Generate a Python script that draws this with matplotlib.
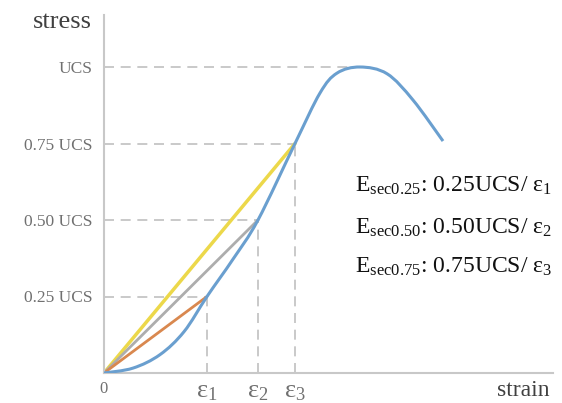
import matplotlib
matplotlib.use("Agg")
import matplotlib.pyplot as plt
from matplotlib.path import Path
from matplotlib.patches import PathPatch
import numpy as np

plt.rcParams['font.family'] = ['Liberation Serif', 'DejaVu Serif']
plt.rcParams['mathtext.fontset'] = 'custom'
plt.rcParams['mathtext.rm'] = 'Liberation Serif'
plt.rcParams['mathtext.it'] = 'Liberation Serif:italic'

# stress-strain curve (strain in arbitrary units, stress as fraction of UCS)
strain = [0, 0.29, 0.56, 0.80, 1.03, 1.29, 1.54, 1.91, 2.16, 2.33, 2.56,
          2.83, 3.09, 3.39]
stress = [0, 0.016, 0.06, 0.135, 0.25, 0.372, 0.50, 0.75, 0.915, 0.98, 1.0,
          0.978, 0.892, 0.758]

levels = [0.25, 0.50, 0.75]
eps = [1.03, 1.54, 1.91]
eps_labels = ['ε$_1$', 'ε$_2$', 'ε$_3$']
peak_strain = 2.56
ytick_vals = [0.25, 0.50, 0.75, 1.0]
ytick_labels = ['0.25 UCS', '0.50 UCS', '0.75 UCS', 'UCS']
secant_colors = ['#d9884f', '#adadad', '#ecd84a']
secant_widths = [2.0, 2.0, 2.5]
annotations = ['E$_{\\mathrm{sec0.25}}$: 0.25UCS/ ε$_1$',
               'E$_{\\mathrm{sec0.50}}$: 0.50UCS/ ε$_2$',
               'E$_{\\mathrm{sec0.75}}$: 0.75UCS/ ε$_3$']

W, H = 562, 403
fig = plt.figure(figsize=(W / 100, H / 100), dpi=100)
ax = fig.add_axes([104 / W, 30 / H, 449 / W, 358 / H])
ax.set_xlim(0, 4.49)
ax.set_ylim(0, 358 / 306)

dash = dict(color='#c0c0c0', lw=1.2, ls=(0, (6, 4)), zorder=1)
for lv, e in zip(levels, eps):
    ax.plot([0, e], [lv, lv], **dash)
    ax.plot([e, e], [0, lv], **dash)
ax.plot([0, peak_strain], [1.0, 1.0], **dash)

# secants (yellow first so the others overlap it)
for i in [2, 1, 0]:
    ax.plot([0, eps[i]], [0, levels[i]], color=secant_colors[i],
            lw=secant_widths[i], zorder=2, solid_capstyle='round')

# smooth curve through the read points (Catmull-Rom drawn as Bezier path)
P = np.column_stack([strain, stress])
verts = [P[0]]
codes = [Path.MOVETO]
n = len(P)
for i in range(n - 1):
    p0 = P[i - 1] if i > 0 else P[i]
    p1, p2 = P[i], P[i + 1]
    p3 = P[i + 2] if i + 2 < n else P[i + 1]
    c1 = p1 + (p2 - p0) / 6.0
    c2 = p2 - (p3 - p1) / 6.0
    verts += [c1, c2, p2]
    codes += [Path.CURVE4] * 3
ax.add_patch(PathPatch(Path(verts, codes), facecolor='none',
                       edgecolor='#6a9fcf', lw=2.2, zorder=3))

for s in ['top', 'right']:
    ax.spines[s].set_visible(False)
for s in ['left', 'bottom']:
    ax.spines[s].set_color('#c8c8c8')
    ax.spines[s].set_linewidth(1.5)

ax.set_yticks(ytick_vals)
ax.set_yticklabels(ytick_labels, fontsize=12.5, color='#707070')
ax.set_xticks([0] + eps)
ax.set_xticklabels(['0'] + eps_labels, color='#707070')
ax.tick_params(length=0, pad=6)
ax.tick_params(axis='y', pad=8)
for lab in ax.get_xticklabels()[1:]:
    lab.set_fontsize(19)
ax.get_xticklabels()[0].set_fontsize(12)

fig.text(33 / W, 1 - 22 / H, 'stress', fontsize=19, color='#404040',
         ha='left', va='center')
fig.text(549 / W, 1 - 390 / H, 'strain', fontsize=17, color='#404040',
         ha='right', va='center')

for txt, yy in zip(annotations, [186, 228, 267]):
    fig.text(355 / W, 1 - yy / H, txt, fontsize=17, color='#111111',
             ha='left', va='center')

fig.savefig('out.png', dpi=100)
